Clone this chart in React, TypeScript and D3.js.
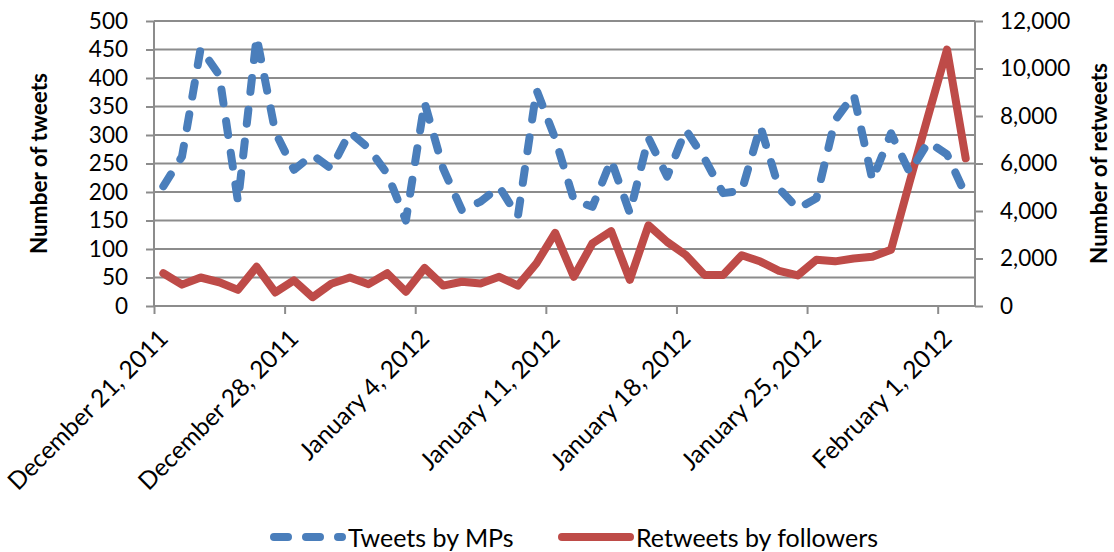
import React, { useEffect, useRef } from 'react';
import * as d3 from 'd3';

// daily values, Dec 21 2011 .. Feb 2 2012
const tweetsByMPs = [
  210, 262, 452, 405, 183, 472, 305, 239, 265, 241, 305,
  277, 232, 150, 357, 241, 168, 183, 209, 157, 379, 294,
  186, 174, 256, 163, 295, 227, 309, 259, 198, 202, 315,
  206, 171, 189, 326, 371, 221, 303, 234, 288, 266, 195,
];
const retweetsByFollowers = [
  1380, 900, 1200, 1000, 680, 1650, 570, 1080, 370, 940, 1200,
  920, 1380, 600, 1600, 860, 1020, 950, 1230, 860, 1800, 3080,
  1230, 2640, 3150, 1100, 3400, 2700, 2150, 1310, 1310, 2140, 1870,
  1480, 1290, 1950, 1880, 2000, 2070, 2370, 5230, 8040, 10800, 6220,
];
const tickDates = ['2011-12-21', '2011-12-28', '2012-01-04', '2012-01-11', '2012-01-18', '2012-01-25', '2012-02-01'];
const leftTicks = [0, 50, 100, 150, 200, 250, 300, 350, 400, 450, 500];
const rightTicks = [0, 2000, 4000, 6000, 8000, 10000, 12000];
const seriesNames = ['Tweets by MPs', 'Retweets by followers'];

const BLUE = '#4a7ebb';
const RED = '#be4b48';
const GRID = '#8c8c8c';
const FONT = 'Lato, "Open Sans", sans-serif';

const App: React.FC = () => {
  const svgRef = useRef<SVGSVGElement>(null);

  useEffect(() => {
    if (!svgRef.current) return;
    const svg = d3.select(svgRef.current);
    svg.selectAll('*').remove();

    const margin = { top: 21, left: 154, right: 139, bottom: 246 };
    const width = 1114 - margin.left - margin.right;
    const height = 552 - margin.top - margin.bottom;

    const parse = d3.utcParse('%Y-%m-%d');
    const start = parse('2011-12-21') as Date;
    const end = d3.utcDay.offset(start, tweetsByMPs.length);
    const days = d3.utcDays(start, end);

    const x = d3.scaleUtc().domain([start, end]).range([0, width]);
    const yL = d3.scaleLinear().domain([0, 500]).range([height, 0]);
    const yR = d3.scaleLinear().domain([0, 12000]).range([height, 0]);
    const mid = (d: Date) => x(d3.utcHour.offset(d, 12));

    const g = svg.append('g').attr('transform', `translate(${margin.left},${margin.top})`);

    // gridlines
    g.selectAll('.grid')
      .data(leftTicks)
      .enter()
      .append('line')
      .attr('x1', 0)
      .attr('x2', width)
      .attr('y1', d => yL(d))
      .attr('y2', d => yL(d))
      .attr('stroke', GRID)
      .attr('stroke-width', 2);

    // left axis
    const left = g.append('g').call(d3.axisLeft(yL).tickValues(leftTicks).tickSize(8).tickPadding(18));
    left.selectAll('line, path').attr('stroke', GRID).attr('stroke-width', 2);
    left.select('.domain').attr('d', `M0,${height}V0`);
    left.selectAll('text').attr('font-family', FONT).attr('font-size', 22.5).attr('fill', '#000');

    // right axis
    const right = g.append('g')
      .attr('transform', `translate(${width},0)`)
      .call(d3.axisRight(yR).tickValues(rightTicks).tickSize(8).tickPadding(17).tickFormat(d3.format(',') as any));
    right.selectAll('line, path').attr('stroke', GRID).attr('stroke-width', 2);
    right.select('.domain').attr('d', `M0,${height}V0`);
    right.selectAll('text').attr('font-family', FONT).attr('font-size', 22.5).attr('fill', '#000');

    // bottom axis
    const bottom = g.append('g')
      .attr('transform', `translate(0,${height})`)
      .call(d3.axisBottom(x)
        .tickValues(tickDates.map(s => parse(s) as Date))
        .tickSize(8)
        .tickFormat(d3.utcFormat('%B %-d, %Y') as any));
    bottom.selectAll('line, path').attr('stroke', GRID).attr('stroke-width', 2);
    bottom.select('.domain').attr('d', `M0,0H${width}`);
    bottom.selectAll('text')
      .attr('font-family', FONT)
      .attr('font-size', 24.5)
      .attr('fill', '#000')
      .attr('text-anchor', 'end')
      .attr('dy', null)
      .attr('y', 0)
      .attr('transform', 'translate(15,34) rotate(-45)');

    // series
    const lineL = d3.line<number>().x((_, i) => mid(days[i])).y(d => yL(d));
    const lineR = d3.line<number>().x((_, i) => mid(days[i])).y(d => yR(d));

    g.append('path')
      .datum(retweetsByFollowers)
      .attr('fill', 'none')
      .attr('stroke', RED)
      .attr('stroke-width', 8)
      .attr('stroke-linejoin', 'round')
      .attr('stroke-linecap', 'round')
      .attr('d', lineR);

    g.append('path')
      .datum(tweetsByMPs)
      .attr('fill', 'none')
      .attr('stroke', BLUE)
      .attr('stroke-width', 8)
      .attr('stroke-linejoin', 'round')
      .attr('stroke-linecap', 'round')
      .attr('stroke-dasharray', '14,18')
      .attr('d', lineL);

    // axis titles
    svg.append('text')
      .attr('transform', `translate(38,${margin.top + height / 2}) rotate(-90)`)
      .attr('text-anchor', 'middle')
      .attr('dominant-baseline', 'central')
      .attr('font-family', FONT)
      .attr('font-weight', 'bold')
      .attr('font-size', 22.5)
      .text('Number of tweets');

    svg.append('text')
      .attr('transform', `translate(1098,${margin.top + height / 2}) rotate(-90)`)
      .attr('text-anchor', 'middle')
      .attr('dominant-baseline', 'central')
      .attr('font-family', FONT)
      .attr('font-weight', 'bold')
      .attr('font-size', 22.5)
      .text('Number of retweets');

    // legend
    const legendY = 537;
    const legend = [
      { x: 274, color: BLUE, dash: '14,18', label: seriesNames[0] },
      { x: 562, color: RED, dash: null, label: seriesNames[1] },
    ];
    legend.forEach(l => {
      svg.append('line')
        .attr('x1', l.x)
        .attr('x2', l.x + 68)
        .attr('y1', legendY)
        .attr('y2', legendY)
        .attr('stroke', l.color)
        .attr('stroke-width', 8)
        .attr('stroke-linecap', 'round')
        .attr('stroke-dasharray', l.dash);
      svg.append('text')
        .attr('x', l.x + 74)
        .attr('y', legendY)
        .attr('dominant-baseline', 'central')
        .attr('font-family', FONT)
        .attr('font-size', 25)
        .text(l.label);
    });
  }, []);

  return (
    <svg
      ref={svgRef}
      width={1114}
      height={552}
      style={{ position: 'absolute', left: 0, top: 0, background: '#fff' }}
    />
  );
};

export default App;
